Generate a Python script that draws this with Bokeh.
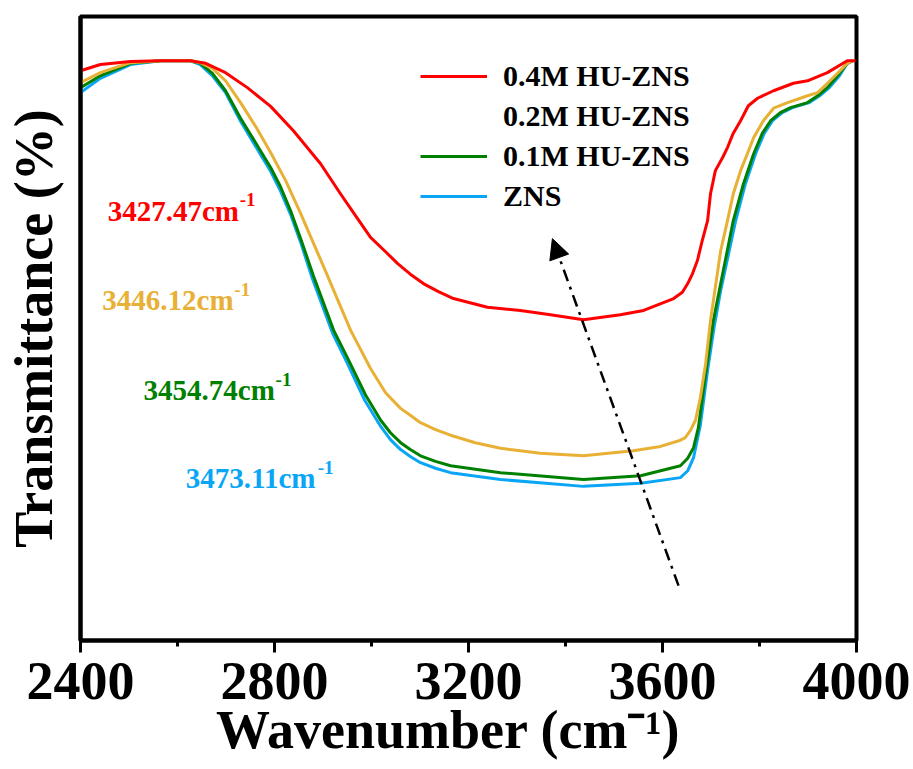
from bokeh.plotting import figure
from bokeh.models import Range1d, FixedTicker, Legend, LegendItem, Label, Arrow, NormalHead
from bokeh.embed import file_html
from bokeh.resources import INLINE

# ---------------- data ----------------
wn_red = [2400, 2441, 2503, 2565, 2627, 2658, 2699, 2744, 2792, 2839, 2895, 2936, 2967, 2998,
          3029, 3054, 3080, 3107, 3138, 3169, 3239, 3307, 3369, 3437, 3513, 3561, 3623, 3641,
          3652, 3662, 3672, 3682, 3693, 3699, 3709, 3724, 3734, 3746, 3761, 3777, 3796, 3829,
          3870, 3899, 3940, 3981, 3998]
t_red = [91.3, 92.3, 92.8, 92.9, 92.9, 92.5, 91.0, 88.6, 85.6, 81.7, 76.4, 71.6, 68.1, 64.6,
         62.3, 60.4, 58.7, 57.2, 55.9, 54.8, 53.4, 52.9, 52.2, 51.4, 52.2, 52.9, 54.8, 55.8,
         57.2, 58.8, 60.9, 64.1, 67.3, 71.6, 75.3, 77.4, 79.0, 81.3, 83.3, 85.7, 86.9, 88.1,
         89.3, 89.7, 91.0, 92.9, 92.9]

wn_gold = [2400, 2441, 2503, 2565, 2627, 2647, 2672, 2699, 2730, 2761, 2792, 2823, 2854, 2903,
           2957, 2998, 3029, 3060, 3080, 3101, 3132, 3163, 3214, 3266, 3348, 3437, 3540, 3596,
           3637, 3647, 3658, 3668, 3678, 3689, 3699, 3720, 3734, 3746, 3761, 3775, 3788, 3808,
           3829, 3858, 3899, 3920, 3940, 3961, 3981, 3992]
t_gold = [89.4, 91.0, 92.6, 92.9, 92.9, 92.6, 91.7, 89.7, 86.2, 82.4, 78.2, 73.7, 68.4, 59.6,
          49.7, 43.6, 39.7, 37.2, 36.1, 34.9, 33.8, 32.9, 31.7, 30.8, 30.0, 29.6, 30.4, 31.1,
          32.1, 32.5, 33.7, 35.3, 38.9, 44.4, 51.3, 62.5, 67.3, 71.6, 75.3, 78.0, 80.6, 83.3,
          85.3, 86.2, 87.3, 87.8, 89.3, 90.9, 92.5, 92.9]

wn_green = [2400, 2441, 2503, 2565, 2627, 2647, 2672, 2699, 2730, 2771, 2792, 2812, 2833, 2854,
            2880, 2922, 2951, 2988, 3019, 3039, 3060, 3080, 3101, 3132, 3163, 3266, 3437, 3555,
            3637, 3652, 3664, 3674, 3685, 3695, 3705, 3720, 3746, 3767, 3788, 3806, 3823, 3843,
            3864, 3899, 3920, 3940, 3961, 3981, 3992]
t_green = [88.6, 90.5, 92.5, 92.9, 92.9, 92.5, 90.9, 88.1, 83.7, 78.5, 75.8, 72.8, 68.9, 64.4,
           58.5, 49.7, 45.2, 39.3, 35.3, 33.3, 31.7, 30.6, 29.6, 28.7, 28.0, 26.9, 25.8, 26.4,
           28.0, 29.2, 30.9, 34.1, 40.5, 46.0, 51.3, 57.2, 67.3, 73.2, 78.0, 81.3, 83.3, 84.6,
           85.4, 86.2, 87.3, 88.6, 90.5, 92.5, 92.9]

wn_blue = [2400, 2441, 2503, 2565, 2627, 2647, 2672, 2699, 2730, 2771, 2792, 2812, 2833, 2854,
           2878, 2920, 2949, 2986, 3019, 3039, 3060, 3080, 3101, 3132, 3163, 3266, 3437, 3555,
           3637, 3652, 3664, 3678, 3693, 3707, 3720, 3751, 3771, 3792, 3810, 3827, 3847, 3868,
           3903, 3924, 3944, 3965, 3981, 3992]
t_blue = [87.8, 90.1, 92.3, 92.9, 92.9, 92.3, 90.5, 87.8, 83.2, 77.9, 75.2, 72.1, 68.3, 63.8,
          58.0, 49.2, 44.6, 38.5, 34.3, 32.2, 30.6, 29.5, 28.5, 27.6, 26.9, 25.8, 24.7, 25.2,
          26.1, 27.2, 29.3, 34.5, 43.3, 50.5, 56.1, 67.3, 73.2, 78.0, 81.3, 83.3, 84.6, 85.4,
          86.2, 87.3, 88.6, 90.5, 92.5, 92.9]

series_names = ["0.4M HU-ZNS", "0.2M HU-ZNS", "0.1M HU-ZNS", "ZNS"]
peak_values = ["3427.47", "3446.12", "3454.74", "3473.11"]
x_ticks = [2400, 2800, 3200, 3600, 4000]
x_minor = [2600, 3000, 3400, 3800]

C_RED, C_GOLD, C_GREEN, C_BLUE = "#FF0000", "#E8B034", "#008000", "#0AA6F5"
FONT = "Liberation Serif"

# ---------------- figure ----------------
p = figure(width=913, height=769, output_backend="svg", toolbar_location=None,
           x_range=Range1d(2400, 4000), y_range=Range1d(0, 100),
           min_border_left=80, min_border_right=57, min_border_top=16, min_border_bottom=129)
p.grid.visible = False
p.background_fill_color = "white"
p.border_fill_color = "white"
p.outline_line_color = "black"
p.outline_line_width = 4

# x axis
xa = p.xaxis[0]
xa.ticker = FixedTicker(ticks=x_ticks, minor_ticks=x_minor)
xa.axis_line_width = 4
xa.major_tick_line_width = 3
xa.major_tick_out = 12
xa.major_tick_in = 0
xa.minor_tick_line_width = 3
xa.minor_tick_out = 6
xa.minor_tick_in = 0
xa.major_label_text_font = FONT
xa.major_label_text_font_style = "bold"
xa.major_label_text_font_size = "54px"
xa.major_label_text_color = "black"
xa.major_label_standoff = 10
xa.axis_label = "Wavenumber (cm\u207b\u00b9)" + "\u00a0" * 3
xa.axis_label_text_font = FONT
xa.axis_label_text_font_style = "bold"
xa.axis_label_text_font_size = "54px"
xa.axis_label_text_color = "black"
xa.axis_label_standoff = -2

# y axis
ya = p.yaxis[0]
ya.ticker = FixedTicker(ticks=[])
ya.axis_line_width = 4
ya.major_tick_line_color = None
ya.minor_tick_line_color = None
ya.axis_label = "Transmittance (%)"
ya.axis_label_text_font = FONT
ya.axis_label_text_font_style = "bold"
ya.axis_label_text_font_size = "54px"
ya.axis_label_text_color = "black"
ya.axis_label_standoff = 17

# curves
lw = 3
r_blue = p.line(wn_blue, t_blue, line_color=C_BLUE, line_width=lw, line_join="round")
r_green = p.line(wn_green, t_green, line_color=C_GREEN, line_width=lw, line_join="round")
r_gold = p.line(wn_gold, t_gold, line_color=C_GOLD, line_width=lw, line_join="round")
r_red = p.line(wn_red, t_red, line_color=C_RED, line_width=lw, line_join="round")
# legend entry for 0.2M is shown without a line sample in the reference
r_gold_legend = p.line(wn_gold, t_gold, line_color=C_GOLD, line_alpha=0, line_width=lw)

legend = Legend(items=[LegendItem(label=series_names[0], renderers=[r_red]),
                       LegendItem(label=series_names[1], renderers=[r_gold_legend]),
                       LegendItem(label=series_names[2], renderers=[r_green]),
                       LegendItem(label=series_names[3], renderers=[r_blue])],
                location=(340, 426))
legend.label_text_font = FONT
legend.label_text_font_style = "bold"
legend.label_text_font_size = "30px"
legend.label_text_color = "black"
legend.glyph_width = 67
legend.glyph_height = 36
legend.label_height = 36
legend.label_standoff = 16
legend.spacing = 4
legend.padding = 0
legend.margin = 0
legend.border_line_alpha = 0
legend.background_fill_alpha = 0
p.add_layout(legend)

# peak annotations
ann_colors = [C_RED, C_GOLD, C_GREEN, C_BLUE]
ann_pos = [(2456, 68.9), (2445, 54.5), (2530, 40.1), (2617, 26.0)]
for txt, col, (ax, ay) in zip(peak_values, ann_colors, ann_pos):
    p.add_layout(Label(x=ax, y=ay, text=txt + "cm", text_color=col, text_font=FONT,
                       text_font_style="bold", text_font_size="29px",
                       text_align="left", text_baseline="alphabetic"))
    p.add_layout(Label(x=ax, y=ay, x_offset=132, y_offset=11, text="-1", text_color=col,
                       text_font=FONT, text_font_style="bold", text_font_size="19px",
                       text_align="left", text_baseline="alphabetic"))

# trend arrow
p.add_layout(Arrow(x_start=3633, y_start=8.8, x_end=3373, y_end=64.4,
                   line_color="black", line_width=2.5, line_dash="12 6 3 6",
                   end=NormalHead(size=20, fill_color="black", line_color="black", line_width=1)))

open("out.html", "w").write(file_html(p, INLINE))
